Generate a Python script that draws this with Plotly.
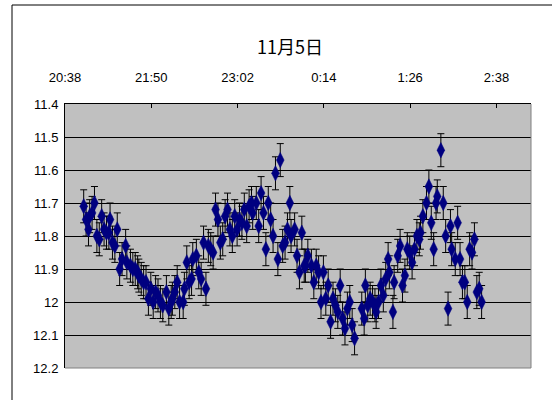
import plotly.graph_objects as go

title_text = "11月5日"
times = ["20:54","20:56","20:58","20:59","21:01","21:03","21:05","21:07","21:09","21:11",
         "21:13","21:15","21:16","21:18","21:20","21:22","21:24","21:26","21:29","21:30",
         "21:33","21:35","21:37","21:39","21:40","21:42","21:44","21:46","21:48","21:50",
         "21:52","21:54","21:56","21:58","22:00","22:03","22:05","22:07","22:08","22:10",
         "22:12","22:14","22:17","22:18","22:20","22:22","22:24","22:25","22:28","22:30",
         "22:32","22:34","22:36","22:38","22:40","22:42","22:44","22:46","22:48","22:50",
         "22:52","22:54","22:56","22:58","23:00","23:02","23:04","23:06","23:08","23:10",
         "23:12","23:14","23:15","23:18","23:20","23:22","23:24","23:26","23:28","23:30",
         "23:32","23:34","23:36","23:38","23:40","23:42","23:44","23:46","23:47","23:50",
         "23:52","23:54","23:56","23:58","23:59","0:01","0:04","0:06","0:08","0:10",
         "0:12","0:14","0:16","0:18","0:20","0:22","0:24","0:26","0:28","0:30",
         "0:32","0:34","0:36","0:38","0:40","0:46","0:48","0:49","0:51","0:53",
         "0:55","0:57","0:58","1:00",
         "1:02","1:04","1:06","1:08","1:09","1:12","1:13","1:16","1:18","1:20",
         "1:22","1:24","1:26","1:28","1:30","1:32","1:34","1:35","1:37","1:40",
         "1:42","1:44","1:46","1:48","1:49","1:52","1:54","1:56","1:58","2:00",
         "2:01","2:04","2:06","2:08","2:10","2:12","2:14","2:16","2:18","2:20",
         "2:22","2:24","2:26"]
values = [11.71,11.75,11.78,11.74,11.73,11.70,11.80,11.81,11.74,11.78,
          11.79,11.79,11.75,11.82,11.83,11.78,11.90,11.87,11.83,11.88,
          11.89,11.90,11.90,11.91,11.92,11.93,11.94,11.94,11.99,11.96,
          12.00,11.97,11.98,12.00,12.01,11.97,12.02,12.00,11.99,11.97,
          11.94,12.00,12.00,11.96,11.88,11.94,11.93,11.87,11.86,11.91,
          11.93,11.82,11.96,11.83,11.84,11.85,11.72,11.75,11.82,11.81,
          11.74,11.72,11.78,11.80,11.74,11.78,11.75,11.76,11.72,11.77,
          11.71,11.70,11.73,11.70,11.77,11.67,11.73,11.84,11.70,11.75,
          11.80,11.61,11.87,11.57,11.83,11.82,11.78,11.70,11.80,11.78,
          11.86,11.91,11.79,11.89,11.89,11.86,11.89,11.94,11.89,11.91,
          12.00,11.91,11.99,11.95,12.06,11.99,12.01,12.03,11.95,12.05,
          12.08,12.02,12.00,12.07,12.11,12.02,12.05,11.95,12.01,11.99,
          12.00,12.01,12.03,12.00,
          11.95,11.98,11.93,11.87,11.91,12.03,11.94,11.86,11.83,11.95,
          11.92,11.84,11.85,11.88,11.84,11.80,11.81,11.79,11.74,11.70,
          11.65,11.76,11.84,11.70,11.68,11.54,11.70,11.80,12.02,11.77,
          11.84,11.87,11.76,11.87,11.94,11.94,12.00,11.84,11.85,11.81,
          11.97,11.96,12.00]
error = 0.05

x_tick_labels = ["20:38", "21:50", "23:02", "0:14", "1:26", "2:38"]
y_tick_labels = ["11.4", "11.5", "11.6", "11.7", "11.8", "11.9", "12", "12.1", "12.2"]


def to_day(t):
    h, m = (int(v) for v in t.split(":"))
    d = (h * 60 + m) / 1440.0
    return d + 1 if h < 12 else d


xs = [to_day(t) for t in times]
x_tick_vals = [to_day(t) + 0.4 / 1440 for t in x_tick_labels]
y_tick_vals = [float(v) for v in y_tick_labels]

lab_font = "Liberation Sans, Arial, sans-serif"

fig = go.Figure()
fig.add_trace(go.Scatter(
    x=xs, y=values, mode="markers",
    marker=dict(symbol="diamond-tall", size=11, color="#000080",
                line=dict(color="#000080", width=0.5)),
    error_y=dict(type="constant", value=error, color="black", thickness=1, width=3.5),
    showlegend=False, cliponaxis=False,
))

fig.update_layout(
    width=552, height=400,
    margin=dict(l=65, r=21, t=104, b=32),
    paper_bgcolor="white", plot_bgcolor="#C0C0C0",
    font=dict(family=lab_font, size=13, color="black"),
    title=dict(text=title_text, x=290 / 552, xanchor="center", y=1 - 48 / 400, yanchor="middle",
               font=dict(family="Noto Sans CJK JP, sans-serif", size=18, color="black")),
    xaxis=dict(side="top", range=[0.86, 1.13], tickvals=x_tick_vals, ticktext=x_tick_labels,
               showgrid=False, zeroline=False, showline=True, linecolor="black", linewidth=1,
               ticks="inside", ticklen=4, tickcolor="black", ticklabelstandoff=16,
               automargin=False, tickfont=dict(family=lab_font, size=13)),
    yaxis=dict(range=[12.2, 11.4], tickvals=y_tick_vals, ticktext=y_tick_labels,
               showgrid=True, gridcolor="black", gridwidth=1, zeroline=False,
               showline=True, linecolor="black", linewidth=1, ticks="",
               ticklabelstandoff=3, automargin=False, tickfont=dict(family=lab_font, size=13)),
    shapes=[
        dict(type="line", xref="paper", yref="paper", x0=1, x1=1, y0=0, y1=1,
             line=dict(color="#808080", width=1), layer="above"),
        dict(type="line", xref="paper", yref="paper", x0=0, x1=1, y0=0, y1=0,
             line=dict(color="#808080", width=1), layer="above"),
        dict(type="rect", xref="paper", yref="paper",
             x0=(12 - 65) / 466, x1=1.3, y0=-0.3, y1=(368 - 5) / 264,
             line=dict(color="black", width=1), layer="below"),
    ],
)

fig.write_html("out.html", config={"displayModeBar": False},
               post_script="document.body.style.margin='0px';document.body.style.padding='0px';")
